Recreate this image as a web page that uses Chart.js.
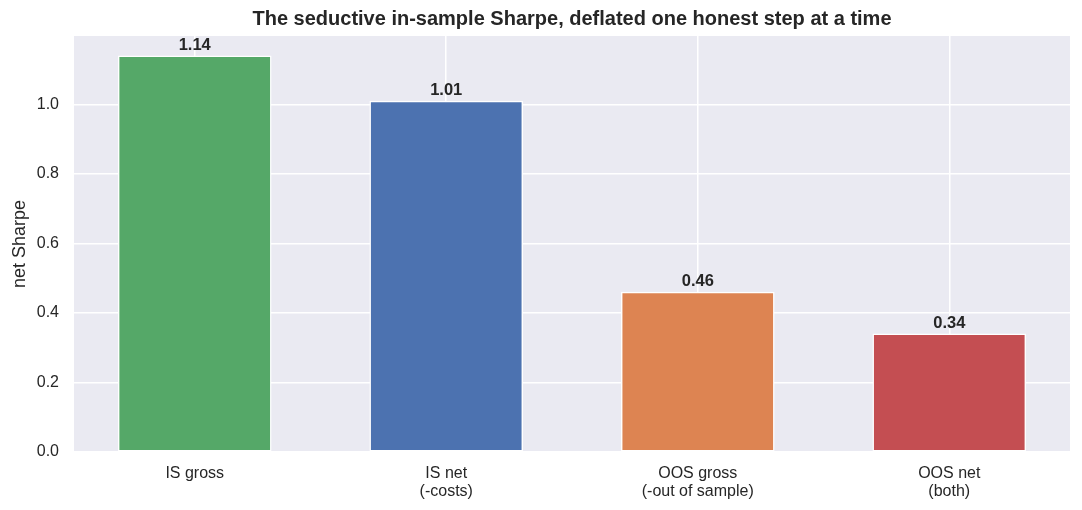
<!DOCTYPE html>
<html>
<head>
<meta charset="utf-8">
<script src="https://cdn.jsdelivr.net/npm/chart.js@4"></script>
<style>
  html, body { margin: 0; padding: 0; background: #ffffff; }
  #wrap { width: 1082px; height: 510px; position: relative; }
</style>
</head>
<body>
<div id="wrap"><canvas id="sharpe-chart"></canvas></div>
<script>
const CATEGORY_LABELS = [
  ["IS gross"],
  ["IS net", "(-costs)"],
  ["OOS gross", "(-out of sample)"],
  ["OOS net", "(both)"],
];
const SHARPE_VALUES = [1.14, 1.01, 0.46, 0.34];
const BAR_COLORS = ["#55A868", "#4C72B0", "#DD8452", "#C44E52"];
const Y_TICKS = [0.0, 0.2, 0.4, 0.6, 0.8, 1.0];

const TITLE_TEXT = "The seductive in-sample Sharpe, deflated one honest step at a time";
const FONT_FAMILY = "'Liberation Sans', Arial, sans-serif";
const TEXT_COLOR = "#262626";

const PLOT_LEFT = 74;
const PLOT_RIGHT = 1070;
const PLOT_TOP = 36;
const PLOT_BOTTOM = 452;

// matplotlib-ish margins around the bars
const X_MIN = -0.48;
const X_MAX = SHARPE_VALUES.length - 1 + 0.48;
const Y_MAX = Math.max(...SHARPE_VALUES) * 1.05;

const plotBackground = {
  id: "plotBackground",
  beforeDraw(chart) {
    const { ctx, chartArea } = chart;
    ctx.save();
    ctx.fillStyle = "#EAEAF2";
    ctx.fillRect(chartArea.left, chartArea.top, chartArea.width, chartArea.height);
    ctx.restore();
  },
};

const titleAndValues = {
  id: "titleAndValues",
  afterDatasetsDraw(chart) {
    const { ctx, chartArea } = chart;
    ctx.save();
    ctx.fillStyle = TEXT_COLOR;
    ctx.textAlign = "center";

    ctx.font = "bold 20px " + FONT_FAMILY;
    ctx.textBaseline = "middle";
    ctx.fillText(TITLE_TEXT, (chartArea.left + chartArea.right) / 2, 19);

    ctx.font = "bold 16.5px " + FONT_FAMILY;
    ctx.textBaseline = "bottom";
    const meta = chart.getDatasetMeta(0);
    meta.data.forEach(function (bar, i) {
      ctx.fillText(SHARPE_VALUES[i].toFixed(2), bar.x, bar.y - 2);
    });
    ctx.restore();
  },
};

function buildChart() {
  const canvas = document.getElementById("sharpe-chart");
  canvas.width = 1082;
  canvas.height = 510;

  new Chart(canvas.getContext("2d"), {
    type: "bar",
    data: {
      datasets: [
        {
          data: SHARPE_VALUES.map((v, i) => ({ x: i, y: v })),
          backgroundColor: BAR_COLORS,
          borderColor: "#ffffff",
          borderWidth: 1.5,
          borderSkipped: false,
          barThickness: 153,
        },
      ],
    },
    options: {
      responsive: false,
      animation: false,
      devicePixelRatio: 1,
      layout: {
        padding: { top: PLOT_TOP, right: 1082 - PLOT_RIGHT, left: 0, bottom: 0 },
      },
      plugins: {
        legend: { display: false },
        tooltip: { enabled: false },
        title: { display: false },
      },
      scales: {
        x: {
          type: "linear",
          min: X_MIN,
          max: X_MAX,
          offset: false,
          afterFit(scale) {
            scale.height = 510 - PLOT_BOTTOM;
          },
          afterBuildTicks(scale) {
            scale.ticks = CATEGORY_LABELS.map((_, i) => ({ value: i }));
          },
          ticks: {
            includeBounds: false,
            stepSize: 1,
            color: TEXT_COLOR,
            padding: 13,
            font: { family: FONT_FAMILY, size: 16, lineHeight: 1.1 },
            callback: (value) => CATEGORY_LABELS[value],
          },
          grid: {
            color: "#ffffff",
            lineWidth: 1.5,
            drawTicks: false,
            offset: false,
          },
          border: { display: false },
        },
        y: {
          min: 0,
          max: Y_MAX,
          afterFit(scale) {
            scale.width = PLOT_LEFT;
          },
          afterBuildTicks(scale) {
            scale.ticks = Y_TICKS.map((v) => ({ value: v }));
          },
          ticks: {
            includeBounds: false,
            color: TEXT_COLOR,
            padding: 15,
            font: { family: FONT_FAMILY, size: 16 },
            callback: (value) => value.toFixed(1),
          },
          title: {
            display: true,
            text: "net Sharpe",
            color: TEXT_COLOR,
            padding: { top: 9, bottom: 0 },
            font: { family: FONT_FAMILY, size: 18 },
          },
          grid: {
            color: "#ffffff",
            lineWidth: 1.5,
            drawTicks: false,
          },
          border: { display: false },
        },
      },
    },
    plugins: [plotBackground, titleAndValues],
  });
}

window.addEventListener("DOMContentLoaded", buildChart);
</script>
</body>
</html>
